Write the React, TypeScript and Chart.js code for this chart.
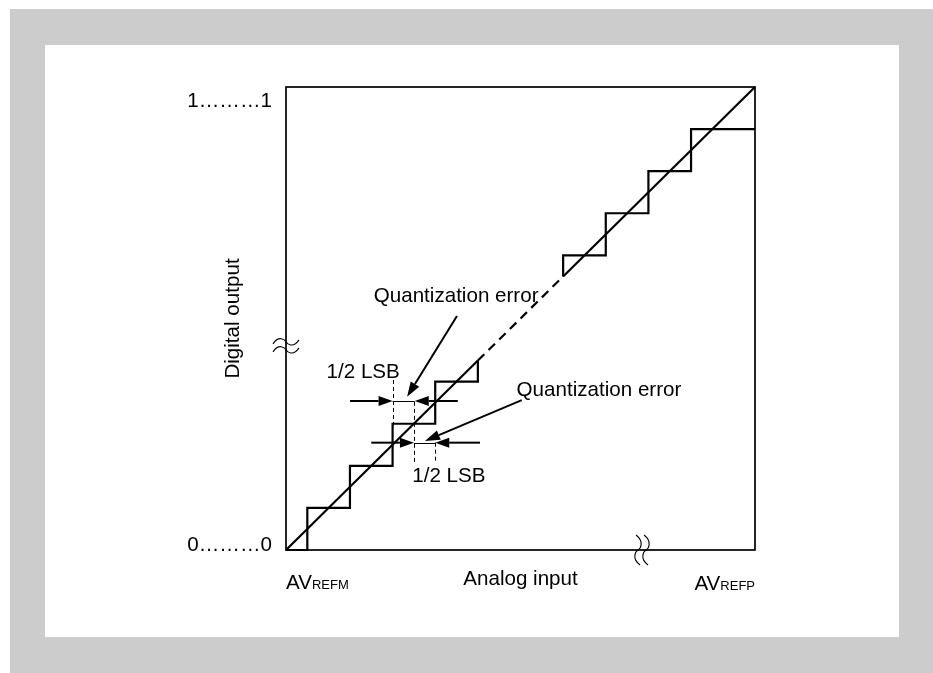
import React, { useEffect, useRef } from "react";
import { Chart, registerables } from "chart.js";

Chart.register(...registerables);

// ---- data (units of 1 LSB) ----
const axisMin = 0;
const axisMax = 11;
const lowerStairX = [0, 0.5, 1.5, 2.5, 3.5, 4.5];
const lowerStairY = [0, 1, 2, 3, 4, 4.5];
const upperStairX = [6.5, 7.5, 8.5, 9.5, 11];
const upperStairY = [6.5, 7, 8, 9, 10];
const idealLowX = [0, 4.5];
const idealGapX = [4.5, 6.5];
const idealHighX = [6.5, 11];

// ---- annotation geometry (data units) ----
const quantArrowFrom = [[4.01, 5.56], [5.53, 3.56]];
const quantArrowTo = [[2.84, 3.64], [3.26, 2.59]];
const lsbRows = [3.54, 2.55];
const lsbOuterLeft = [1.5, 2.0];
const lsbGapLeft = [2.5, 3.0];
const lsbGapRight = [3.02, 3.5];
const lsbOuterRight = [4.03, 4.55];
const guideX = [2.5, 3.0, 3.5];
const guideTop = [4.04, 3.52, 2.55];
const guideBottom = [2.93, 2.07, 2.07];
const yBreakAt = 4.85;
const xBreakAt = 8.35;

// ---- text ----
const yTickLabels = ["0\u2026\u2026\u20260", "1\u2026\u2026\u20261"];
const yTitle = "Digital output";
const xTitle = "Analog input";
const xEndMain = ["AV", "AV"];
const xEndSub = ["REFM", "REFP"];
const quantLabel = "Quantization error";
const lsbLabel = "1/2 LSB";
const quantLabelPos = [[3.99, 5.89], [7.34, 3.67]];
const lsbLabelPos = [[1.81, 4.08], [3.82, 1.62]];

const FONT = "'Liberation Sans', Arial, sans-serif";

function pts(xs: number[], ys: number[]) {
  return xs.map((x, i) => ({ x, y: ys[i] }));
}

function arrow(ctx: CanvasRenderingContext2D, x1: number, y1: number, x2: number, y2: number, len: number, half: number, lw: number) {
  const a = Math.atan2(y2 - y1, x2 - x1);
  const bx = x2 - Math.cos(a) * len;
  const by = y2 - Math.sin(a) * len;
  ctx.save();
  ctx.lineWidth = lw;
  ctx.strokeStyle = "#000";
  ctx.fillStyle = "#000";
  ctx.beginPath();
  ctx.moveTo(x1, y1);
  ctx.lineTo(bx, by);
  ctx.stroke();
  ctx.beginPath();
  ctx.moveTo(x2, y2);
  ctx.lineTo(bx + Math.sin(a) * half, by - Math.cos(a) * half);
  ctx.lineTo(bx - Math.sin(a) * half, by + Math.cos(a) * half);
  ctx.closePath();
  ctx.fill();
  ctx.restore();
}

const decor = {
  id: "decor",
  beforeDatasetsDraw(chart: any) {
    const { ctx, chartArea: a } = chart;
    ctx.save();
    ctx.strokeStyle = "#000";
    ctx.lineWidth = 1.7;
    ctx.strokeRect(a.left, a.top, a.right - a.left, a.bottom - a.top);
    ctx.restore();
  },
  afterDatasetsDraw(chart: any) {
    const { ctx, chartArea: a } = chart;
    const sx = chart.scales.x;
    const sy = chart.scales.y;
    const X = (v: number) => sx.getPixelForValue(v);
    const Y = (v: number) => sy.getPixelForValue(v);
    ctx.save();

    // break marks on y axis (horizontal tildes)
    ctx.strokeStyle = "#000";
    ctx.lineWidth = 1.1;
    const by = Y(yBreakAt);
    for (const off of [-4, 4]) {
      const cy = by + off;
      ctx.beginPath();
      ctx.moveTo(a.left - 13, cy + 2);
      ctx.bezierCurveTo(a.left - 7, cy - 7, a.left - 1, cy - 2, a.left, cy);
      ctx.bezierCurveTo(a.left + 1, cy + 2, a.left + 7, cy + 7, a.left + 13, cy - 2);
      ctx.stroke();
    }
    // break marks on x axis (vertical tildes)
    const bx = X(xBreakAt);
    for (const off of [-4, 4]) {
      const cx = bx + off;
      ctx.beginPath();
      ctx.moveTo(cx - 2, a.bottom - 15);
      ctx.bezierCurveTo(cx + 7, a.bottom - 8, cx + 2, a.bottom - 1, cx, a.bottom);
      ctx.bezierCurveTo(cx - 2, a.bottom + 1, cx - 7, a.bottom + 8, cx + 2, a.bottom + 15);
      ctx.stroke();
    }

    // dashed guide lines
    ctx.lineWidth = 1;
    ctx.setLineDash([4, 3]);
    guideX.forEach((gx, i) => {
      ctx.beginPath();
      ctx.moveTo(Math.round(X(gx)) + 0.5, Y(guideTop[i]));
      ctx.lineTo(Math.round(X(gx)) + 0.5, Y(guideBottom[i]));
      ctx.stroke();
    });
    ctx.setLineDash([]);

    // 1/2 LSB arrows
    lsbRows.forEach((r, i) => {
      const y = Y(r);
      arrow(ctx, X(lsbOuterLeft[i]), y, X(lsbGapLeft[i]), y, 14, 5, 2);
      arrow(ctx, X(lsbOuterRight[i]), y, X(lsbGapRight[i]), y, 14, 5, 2);
      ctx.lineWidth = 1;
      ctx.beginPath();
      ctx.moveTo(X(lsbGapLeft[i]), Math.round(y) + 0.5);
      ctx.lineTo(X(lsbGapRight[i]), Math.round(y) + 0.5);
      ctx.stroke();
    });

    // quantization error arrows
    quantArrowFrom.forEach((f, i) => {
      const t = quantArrowTo[i];
      arrow(ctx, X(f[0]), Y(f[1]), X(t[0]), Y(t[1]), 15, 5, 2);
    });

    // texts
    ctx.fillStyle = "#000";
    ctx.font = `20.6px ${FONT}`;
    ctx.textBaseline = "alphabetic";
    ctx.textAlign = "center";
    quantLabelPos.forEach((p) => ctx.fillText(quantLabel, X(p[0]), Y(p[1])));
    lsbLabelPos.forEach((p) => ctx.fillText(lsbLabel, X(p[0]), Y(p[1])));

    // y tick labels
    ctx.textAlign = "right";
    ctx.fillText(yTickLabels[0], a.left - 14, Y(axisMin) + 1);
    ctx.fillText(yTickLabels[1], a.left - 14, Y(axisMax) + 20);

    // x title
    ctx.textAlign = "center";
    ctx.fillText(xTitle, X((axisMin + axisMax) / 2), a.bottom + 35);

    // y title
    ctx.save();
    ctx.translate(a.left - 47, Y((axisMin + axisMax) / 2));
    ctx.rotate(-Math.PI / 2);
    ctx.textAlign = "center";
    ctx.fillText(yTitle, 0, 0);
    ctx.restore();

    // AVREFM / AVREFP
    const base = a.bottom + 39;
    ctx.textAlign = "left";
    ctx.font = `20.6px ${FONT}`;
    ctx.fillText(xEndMain[0], X(axisMin), base);
    const w0 = ctx.measureText(xEndMain[0]).width;
    ctx.font = `13px ${FONT}`;
    ctx.fillText(xEndSub[0], X(axisMin) + w0, base);
    const ws = ctx.measureText(xEndSub[1]).width;
    ctx.fillText(xEndSub[1], X(axisMax) - ws, base + 1);
    ctx.font = `20.6px ${FONT}`;
    ctx.textAlign = "right";
    ctx.fillText(xEndMain[1], X(axisMax) - ws, base + 1);

    ctx.restore();
  },
};

export default function App() {
  const ref = useRef<HTMLCanvasElement | null>(null);
  useEffect(() => {
    if (!ref.current) return;
    const line = (data: any[], extra: any = {}) => ({
      data,
      borderColor: "#000",
      borderWidth: 2.2,
      pointRadius: 0,
      fill: false,
      tension: 0,
      clip: false,
      ...extra,
    });
    const chart = new Chart(ref.current, {
      type: "line",
      data: {
        datasets: [
          line(pts(idealLowX, idealLowX)),
          line(pts(idealGapX, idealGapX), { borderDash: [9, 6] }),
          line(pts(idealHighX, idealHighX)),
          line(pts(lowerStairX, lowerStairY), { stepped: "before" }),
          line(pts(upperStairX, upperStairY), { stepped: "after" }),
        ],
      },
      options: {
        animation: false,
        responsive: false,
        devicePixelRatio: 1,
        layout: { padding: { left: 286, top: 87, right: 178, bottom: 123 } },
        plugins: { legend: { display: false }, tooltip: { enabled: false } },
        scales: {
          x: { type: "linear", min: axisMin, max: axisMax, display: false },
          y: { type: "linear", min: axisMin, max: axisMax, display: false },
        },
        events: [],
      },
      plugins: [decor],
    });
    return () => chart.destroy();
  }, []);

  return (
    <div style={{ position: "absolute", left: 0, top: 0, width: 933, height: 673, background: "#fff", overflow: "hidden" }}>
      <div style={{ position: "absolute", left: 10, top: 9, width: 923, height: 664, background: "#cccccc" }} />
      <div style={{ position: "absolute", left: 45, top: 45, width: 854, height: 592, background: "#fff" }} />
      <canvas ref={ref} width={933} height={673} style={{ position: "absolute", left: 0, top: 0, width: 933, height: 673 }} />
    </div>
  );
}
